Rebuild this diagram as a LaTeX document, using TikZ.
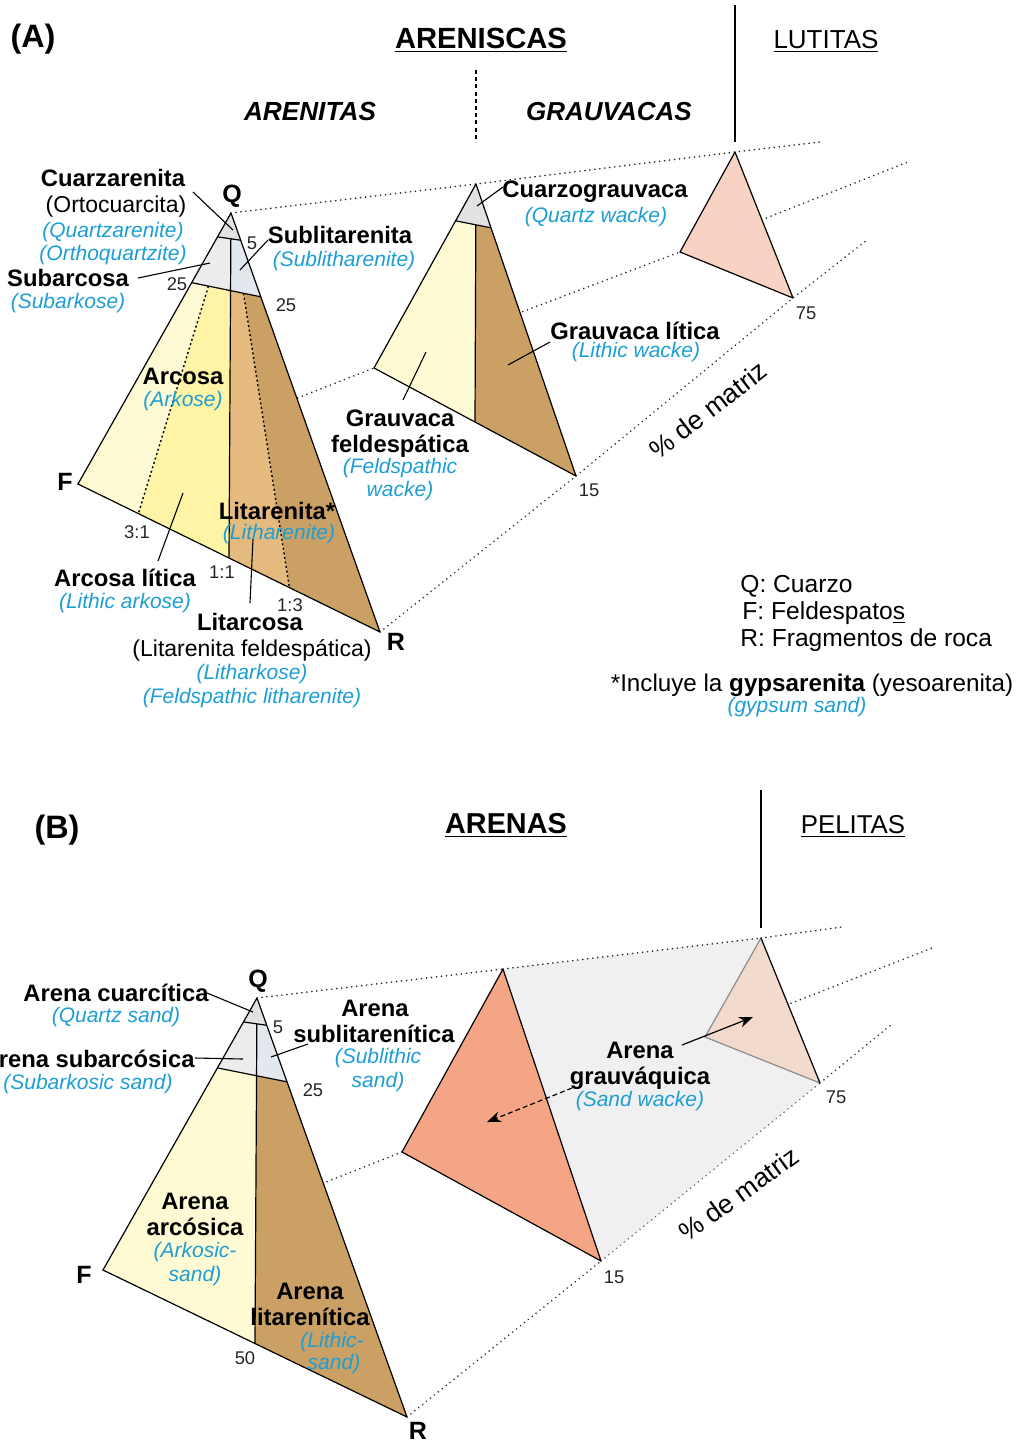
\documentclass[tikz,border=0pt]{standalone}
\usepackage{fontspec}
\setmainfont{Liberation Sans}
\usetikzlibrary{calc,arrows.meta}

\definecolor{engblue}{RGB}{28,158,212}
\definecolor{qtop}{RGB}{226,226,226}
\definecolor{qsubf}{RGB}{236,236,236}
\definecolor{qsubr}{RGB}{227,231,238}
\definecolor{fpale}{RGB}{254,250,212}
\definecolor{fyel}{RGB}{255,244,166}
\definecolor{rlight}{RGB}{228,186,126}
\definecolor{rtan}{RGB}{202,160,100}
\definecolor{mudlight}{RGB}{248,210,194}
\definecolor{mudsalmon}{RGB}{244,165,134}
\definecolor{mudpale}{RGB}{242,218,204}
\definecolor{prism}{RGB}{240,240,240}

\begin{document}
\begin{tikzpicture}[x=0.5pt,y=-0.5pt,
  bl/.style={font=\bfseries\fontsize{11.9}{14}\selectfont,anchor=base,inner sep=0pt},
  en/.style={font=\itshape\fontsize{10.5}{12}\selectfont,text=engblue,anchor=base,inner sep=0pt},
  rg/.style={font=\fontsize{11.5}{13}\selectfont,anchor=base,inner sep=0pt},
  nm/.style={font=\fontsize{9.2}{10}\selectfont,text=black!85,anchor=base,inner sep=0pt},
  vx/.style={font=\bfseries\fontsize{12.5}{14}\selectfont,anchor=base,inner sep=0pt},
  lg/.style={font=\fontsize{12.3}{14}\selectfont,anchor=base west,inner sep=0pt},
  hd/.style={anchor=base,inner sep=0pt},
  edge/.style={line width=0.6pt,line join=round},
  leader/.style={line width=0.55pt},
  guide/.style={draw=black!85,line width=0.9pt,line cap=round,dash pattern=on 0.01pt off 2.5pt},
  ratio/.style={line width=0.7pt,dash pattern=on 1pt off 1.3pt},
  tip/.style={-{Stealth[length=7pt,width=5.5pt]},line width=0.6pt}
]
\clip (0,0) rectangle (1019,1442);

% ---------------- (A) sandstones ----------------
% vertices of the three ternary sections
\coordinate (aQ) at (231,213);  \coordinate (aF) at (78,484);   \coordinate (aR) at (380,632);
\coordinate (gQ) at (476,184);  \coordinate (gF) at (374,368);  \coordinate (gR) at (576,476);
\coordinate (lQ) at (735,152);  \coordinate (lF) at (680,252);  \coordinate (lR) at (793,298);
\coordinate (aQend) at (820,142); \coordinate (aFend) at (908,162); \coordinate (aRend) at (867,240);

% boundaries of the arenite triangle
\coordinate (a5l) at ($(aQ)!0.088!(aF)$);
\coordinate (a5r) at ($(aQ)!0.065!(aR)$);
\coordinate (a25l) at ($(aQ)!0.257!(aF)$);
\coordinate (a25r) at ($(aQ)!0.2!(aR)$);
\coordinate (aM) at ($(aF)!0.5!(aR)$);
\coordinate (a31) at ($(aF)!0.2!(aR)$);
\coordinate (a13) at ($(aF)!0.7!(aR)$);
\coordinate (a5m) at (intersection of aQ--aM and a5l--a5r);
\coordinate (a25m) at (intersection of aQ--aM and a25l--a25r);
\coordinate (a31t) at (intersection of aQ--a31 and a25l--a25r);
\coordinate (a13t) at (intersection of aQ--a13 and a25l--a25r);

% boundaries of the wacke triangle
\coordinate (g5l) at ($(gQ)!0.2!(gF)$);
\coordinate (g5r) at ($(gQ)!0.15!(gR)$);
\coordinate (gM) at ($(gF)!0.5!(gR)$);
\coordinate (g5m) at (intersection of gQ--gM and g5l--g5r);

% matrix-content guide lines (hidden parts covered by the fills)
\draw[guide] (aQ) -- (gQ) -- (lQ) -- (aQend);
\draw[guide] (aF) -- (gF) -- (lF) -- (aFend);
\draw[guide] (aR) -- (gR) -- (lR) -- (aRend);

% arenite fills
\fill[qtop] (aQ) -- (a5r) -- (a5l) -- cycle;
\fill[qsubf] (a5l) -- (a5m) -- (a25m) -- (a25l) -- cycle;
\fill[qsubr] (a5m) -- (a5r) -- (a25r) -- (a25m) -- cycle;
\fill[fpale] (a25l) -- (a31t) -- (a31) -- (aF) -- cycle;
\fill[fyel] (a31t) -- (a25m) -- (aM) -- (a31) -- cycle;
\fill[rlight] (a25m) -- (a13t) -- (a13) -- (aM) -- cycle;
\fill[rtan] (a13t) -- (a25r) -- (aR) -- (a13) -- cycle;
\draw[ratio] (a31t) -- (a31);
\draw[ratio] (a13t) -- (a13);
\draw[edge] (a5l) -- (a5r) (a25l) -- (a25r) (a5m) -- (aM);
\draw[edge] (aQ) -- (aF) -- (aR) -- cycle;

% wacke fills
\fill[qtop] (gQ) -- (g5r) -- (g5l) -- cycle;
\fill[fpale] (g5l) -- (g5m) -- (gM) -- (gF) -- cycle;
\fill[rtan] (g5m) -- (g5r) -- (gR) -- (gM) -- cycle;
\draw[edge] (g5l) -- (g5r) (g5m) -- (gM);
\draw[edge] (gQ) -- (gF) -- (gR) -- cycle;

% mudrock triangle
\filldraw[fill=mudlight,edge] (lQ) -- (lF) -- (lR) -- cycle;

% header
\coordinate (hA1) at (735,5);   \coordinate (hA2) at (735,142);
\coordinate (hB1) at (476,70);  \coordinate (hB2) at (476,142);
\draw[line width=0.6pt] (hA1) -- (hA2);
\draw[line width=0.6pt,dash pattern=on 2pt off 1.6pt] (hB1) -- (hB2);
\node[hd,font=\bfseries\fontsize{16.2}{18}\selectfont] (tA) at (33,47) {(A)};
\node[hd,font=\bfseries\fontsize{14.6}{16}\selectfont] (tarenisc) at (481,48) {\underline{ARENISCAS}};
\node[hd,font=\fontsize{13}{15}\selectfont] (tlutit) at (826,48) {\underline{LUTITAS}};
\node[hd,font=\bfseries\itshape\fontsize{13.1}{15}\selectfont] (tarenit) at (310,120) {ARENITAS};
\node[hd,font=\bfseries\itshape\fontsize{13}{15}\selectfont] (tgrauv) at (609,120) {GRAUVACAS};

% vertex letters and numbers
\node[vx] (vQa) at (232,202) {Q};
\node[vx] (vFa) at (65,490) {F};
\node[vx] (vRa) at (396,650) {R};
\node[nm] (n5a) at (252,249) {5};
\node[nm] (n25la) at (177,290) {25};
\node[nm] (n25ra) at (286,311) {25};
\node[nm] (n31) at (137,538) {3:1};
\node[nm] (n11) at (222,578) {1:1};
\node[nm] (n13) at (290,611) {1:3};
\node[nm] (n15a) at (589,496) {15};
\node[nm] (n75a) at (806,319) {75};
\node[font=\fontsize{13.3}{15}\selectfont,inner sep=0pt,rotate=37.6] (matA) at (708,410) {\% de matriz};

% arenite labels
\node[bl] (cz1) at (113,186) {Cuarzarenita};
\node[rg] (cz2) at (116,212) {(Ortocuarcita)};
\node[en] (cz3) at (113,237) {(Quartzarenite)};
\node[en] (cz4) at (113,260) {(Orthoquartzite)};
\node[bl] (sa1) at (68,286) {Subarcosa};
\node[en] (sa2) at (68,308) {(Subarkose)};
\node[bl] (sl1) at (340,243) {Sublitarenita};
\node[en] (sl2) at (344,266) {(Sublitharenite)};
\node[bl] (ar1) at (183,384) {Arcosa};
\node[en] (ar2) at (183,406) {(Arkose)};
\node[bl] (li1) at (277,519) {Litarenita*};
\node[en] (li2) at (279,539) {(Litharenite)};
\node[bl] (al1) at (125,586) {Arcosa lítica};
\node[en] (al2) at (125,608) {(Lithic arkose)};
\node[bl] (lc1) at (250,630) {Litarcosa};
\node[rg] (lc2) at (252,656) {(Litarenita feldespática)};
\node[en] (lc3) at (252,679) {(Litharkose)};
\node[en] (lc4) at (252,703) {(Feldspathic litharenite)};

% wacke labels
\node[bl] (qw1) at (595,197) {Cuarzograuvaca};
\node[en] (qw2) at (596,222) {(Quartz wacke)};
\node[bl] (lw1) at (635,339) {Grauvaca lítica};
\node[en] (lw2) at (636,357) {(Lithic wacke)};
\node[bl] (fw1) at (400,426) {Grauvaca};
\node[bl] (fw2) at (400,452) {feldespática};
\node[en] (fw3) at (400,473) {(Feldspathic};
\node[en] (fw4) at (400,496) {wacke)};

% leader lines (A)
\coordinate (k1a) at (193,192); \coordinate (k1b) at (233,230);
\coordinate (k2a) at (138,278); \coordinate (k2b) at (210,263);
\coordinate (k3a) at (268,240); \coordinate (k3b) at (240,270);
\coordinate (k4a) at (158,561); \coordinate (k4b) at (183,493);
\coordinate (k5a) at (250,603); \coordinate (k5b) at (253,539);
\coordinate (k6a) at (503,187); \coordinate (k6b) at (477,206);
\coordinate (k7a) at (550,342); \coordinate (k7b) at (508,365);
\coordinate (k8a) at (403,400); \coordinate (k8b) at (426,352);
\draw[leader] (k1a) -- (k1b) (k2a) -- (k2b) (k3a) -- (k3b) (k4a) -- (k4b)
  (k5a) -- (k5b) (k6a) -- (k6b) (k7a) -- (k7b) (k8a) -- (k8b);

% key
\node[lg] (kq) at (740,592) {Q: Cuarzo};
\node[lg] (kf) at (742,619) {F: Feldespato\underline{s}};
\node[lg] (kr) at (740,646) {R: Fragmentos de roca};
\node[hd,font=\fontsize{12.1}{14}\selectfont] (kg1) at (812,691) {*Incluye la \textbf{gypsarenita} (yesoarenita)};
\node[en] (kg2) at (797,712) {(gypsum sand)};

% ---------------- (B) sands ----------------
\coordinate (bQ) at (257,998);  \coordinate (bF) at (103,1270); \coordinate (bR) at (407,1417);
\coordinate (sQ) at (503,969);  \coordinate (sF) at (402,1152); \coordinate (sR) at (601,1261);
\coordinate (pQ) at (761,938);  \coordinate (pF) at (705,1037); \coordinate (pR) at (820,1083);
\coordinate (bQend) at (842,927); \coordinate (bFend) at (932,948); \coordinate (bRend) at (892,1024);

\coordinate (b5l) at ($(bQ)!0.088!(bF)$);
\coordinate (b5r) at ($(bQ)!0.065!(bR)$);
\coordinate (b25l) at ($(bQ)!0.257!(bF)$);
\coordinate (b25r) at ($(bQ)!0.2!(bR)$);
\coordinate (bM) at ($(bF)!0.5!(bR)$);
\coordinate (b5m) at (intersection of bQ--bM and b5l--b5r);
\coordinate (b25m) at (intersection of bQ--bM and b25l--b25r);

\draw[guide] (bQ) -- (sQ);
\draw[guide] (pQ) -- (bQend);
\draw[guide] (bF) -- (sF) -- (pF) -- (bFend);
\draw[guide] (bR) -- (sR);
\draw[guide] (pR) -- (bRend);

\fill[qtop] (bQ) -- (b5r) -- (b5l) -- cycle;
\fill[qsubf] (b5l) -- (b5m) -- (b25m) -- (b25l) -- cycle;
\fill[qsubr] (b5m) -- (b5r) -- (b25r) -- (b25m) -- cycle;
\fill[fpale] (b25l) -- (b25m) -- (bM) -- (bF) -- cycle;
\fill[rtan] (b25m) -- (b25r) -- (bR) -- (bM) -- cycle;
\draw[edge] (b5l) -- (b5r) (b25l) -- (b25r) (b5m) -- (bM);
\draw[edge] (bQ) -- (bF) -- (bR) -- cycle;

% matrix prism
\fill[prism] (sQ) -- (pQ) -- (pR) -- (sR) -- cycle;
\draw[guide] (sQ) -- (pQ);
\draw[guide,draw=black!60] (sR) -- (pR);
\filldraw[fill=mudsalmon,edge] (sQ) -- (sF) -- (sR) -- cycle;
\fill[mudpale] (pQ) -- (pF) -- (pR) -- cycle;
\draw[edge,draw=black!45] (pQ) -- (pF) -- (pR);
\draw[edge] (pQ) -- (pR);

% header
\coordinate (hC1) at (761,790); \coordinate (hC2) at (761,928);
\draw[line width=0.6pt] (hC1) -- (hC2);
\node[hd,font=\bfseries\fontsize{16.2}{18}\selectfont] (tB) at (57,838) {(B)};
\node[hd,font=\bfseries\fontsize{14.4}{16}\selectfont] (tarenas) at (506,833) {\underline{ARENAS}};
\node[hd,font=\fontsize{12.9}{15}\selectfont] (tpelit) at (853,833) {\underline{PELITAS}};

\node[vx] (vQb) at (258,987) {Q};
\node[vx] (vFb) at (84,1283) {F};
\node[vx] (vRb) at (418,1439) {R};
\node[nm] (n5b) at (278,1033) {5};
\node[nm] (n25b) at (313,1096) {25};
\node[nm] (n50b) at (245,1364) {50};
\node[nm] (n15b) at (614,1283) {15};
\node[nm] (n75b) at (836,1103) {75};
\node[font=\fontsize{13.3}{15}\selectfont,inner sep=0pt,rotate=36] (matB) at (739,1194) {\% de matriz};

\node[bl] (ac1) at (116,1001) {Arena cuarcítica};
\node[en] (ac2) at (116,1022) {(Quartz sand)};
\node[bl,anchor=base east] (as1) at (195,1067) {Arena subarcósica};
\node[en] (as2) at (88,1089) {(Subarkosic sand)};
\node[bl] (asl1) at (375,1016) {Arena};
\node[bl] (asl2) at (374,1042) {sublitarenítica};
\node[en] (asl3) at (378,1063) {(Sublithic};
\node[en] (asl4) at (378,1087) {sand)};
\node[bl] (aa1) at (195,1209) {Arena};
\node[bl] (aa2) at (195,1235) {arcósica};
\node[en] (aa3) at (195,1257) {(Arkosic-};
\node[en] (aa4) at (195,1281) {sand)};
\node[bl] (alt1) at (310,1299) {Arena};
\node[bl] (alt2) at (310,1325) {litarenítica};
\node[en] (alt3) at (332,1347) {(Lithic-};
\node[en] (alt4) at (334,1369) {sand)};
\node[bl] (ag1) at (640,1058) {Arena};
\node[bl] (ag2) at (640,1084) {grauváquica};
\node[en] (ag3) at (640,1106) {(Sand wacke)};

% leader lines and arrows (B)
\coordinate (m1a) at (207,993);  \coordinate (m1b) at (253,1012);
\coordinate (m2a) at (195,1058); \coordinate (m2b) at (243,1059);
\coordinate (m3a) at (308,1044); \coordinate (m3b) at (271,1057);
\coordinate (m4a) at (682,1045); \coordinate (m4b) at (753,1017);
\coordinate (m5a) at (572,1088); \coordinate (m5b) at (487,1122);
\draw[leader] (m1a) -- (m1b) (m2a) -- (m2b) (m3a) -- (m3b);
\draw[tip] (m4a) -- (m4b);
\draw[tip,dash pattern=on 2.5pt off 1.5pt] (m5a) -- (m5b);
\end{tikzpicture}
\end{document}
